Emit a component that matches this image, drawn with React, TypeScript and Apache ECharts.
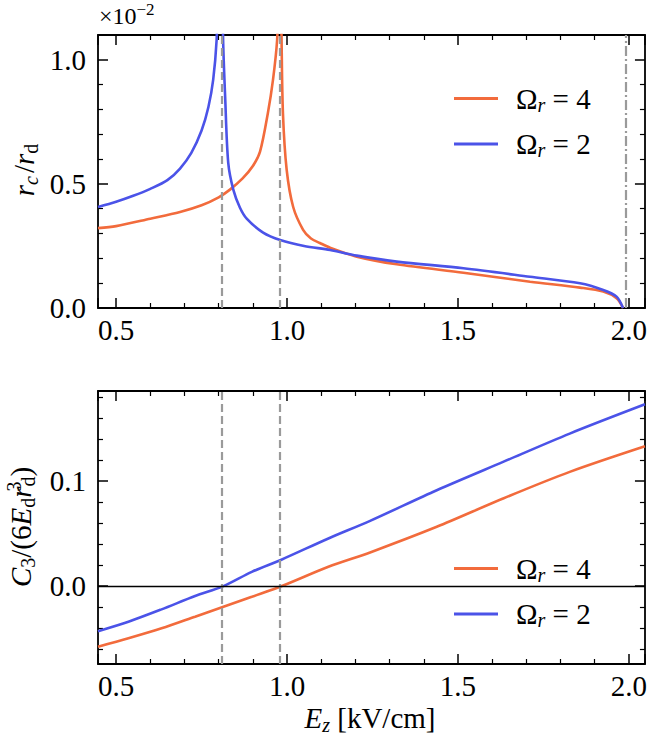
import React, { useEffect, useRef } from "react";
import * as echarts from "echarts";

// ---------- data ----------
const X_RANGE = [0.447, 2.047];
const TOP_Y_RANGE = [0, 1.1];
const BOT_Y_RANGE = [-0.0743, 0.186];

const NAME4 = "Ω_r = 4";
const NAME2 = "Ω_r = 2";

// top panel: r_c / r_d (x 10^-2)
const topOmega4X = [0.447, 0.5, 0.6, 0.687, 0.75, 0.8, 0.833, 0.87, 0.9, 0.921, 0.944, 0.959, 0.971, 0.977, 0.982, 0.984, 0.988, 0.999, 1.018, 1.047, 1.07, 1.096, 1.126, 1.204, 1.321, 1.516, 1.711, 1.857, 1.925, 1.964, 1.983];
const topOmega4Y = [0.322, 0.33, 0.36, 0.387, 0.414, 0.446, 0.477, 0.522, 0.572, 0.63, 0.786, 0.92, 1.08, 1.3, 1.3, 1.08, 0.786, 0.556, 0.407, 0.315, 0.28, 0.262, 0.243, 0.207, 0.176, 0.142, 0.106, 0.082, 0.066, 0.039, 0];

const topOmega2X = [0.447, 0.5, 0.55, 0.6, 0.65, 0.687, 0.72, 0.75, 0.77, 0.784, 0.794, 0.799, 0.811, 0.813, 0.819, 0.828, 0.843, 0.862, 0.882, 0.93, 0.98, 1.05, 1.126, 1.204, 1.321, 1.516, 1.711, 1.857, 1.925, 1.964, 1.983];
const topOmega2Y = [0.407, 0.428, 0.452, 0.48, 0.515, 0.562, 0.625, 0.715, 0.81, 0.92, 1.08, 1.3, 1.3, 1.08, 0.85, 0.585, 0.476, 0.405, 0.36, 0.304, 0.274, 0.25, 0.234, 0.211, 0.187, 0.16, 0.126, 0.0995, 0.0726, 0.0457, 0];

// bottom panel: C3 / (6 E_d r_d^3)
const botX = [0.447, 0.536, 0.633, 0.731, 0.814, 0.897, 0.985, 1.121, 1.243, 1.438, 1.632, 1.827, 2.047];
const botOmega4Y = [-0.0578, -0.0498, -0.0403, -0.0292, -0.0197, -0.0102, 0, 0.0184, 0.0321, 0.0565, 0.0835, 0.1089, 0.1333];
const botOmega2Y = [-0.043, -0.034, -0.0222, -0.0095, 0, 0.0136, 0.0254, 0.0454, 0.0622, 0.0914, 0.1184, 0.1454, 0.1733];

const resonanceX = [0.815, 0.985];
const cutoffX = [1.985];

const X_TICK_STEP = 0.5;
const TOP_Y_TICK_STEP = 0.5;
const BOT_Y_TICK_STEP = 0.1;

// ---------- styles ----------
const FONT = "Liberation Serif";
const ORANGE = "#f26b3c";
const BLUE = "#4b53e8";
const GREY = "#9a9a9a";

const zip = (xs: number[], ys: number[]) => xs.map((x, i) => [x, ys[i]]);

const stepFormatter = (step: number) => (v: number) => {
  const k = v / step;
  return Math.abs(k - Math.round(k)) < 1e-6 ? v.toFixed(1) : "";
};

function valueAxis(opts: any) {
  const { gridIndex, position, range, step, showLabel, isY } = opts;
  return {
    type: "value",
    gridIndex,
    position,
    min: range[0],
    max: range[1],
    minInterval: step,
    maxInterval: step,
    splitNumber: 3,
    axisLine: { show: true, onZero: false, lineStyle: { color: "#000", width: 1.8 } },
    axisTick: { show: true, inside: true, length: 10, lineStyle: { color: "#000", width: 1.5 } },
    minorTick: { show: true, splitNumber: 5, length: 5, lineStyle: { color: "#000", width: 1.2 } },
    splitLine: { show: false },
    minorSplitLine: { show: false },
    axisLabel: {
      show: showLabel,
      color: "#000",
      fontFamily: FONT,
      fontSize: 29,
      margin: isY ? 12 : 7,
      formatter: stepFormatter(step),
    },
  };
}

const legendRich = {
  o: { fontFamily: FONT, fontSize: 29, color: "#000", padding: [0, 0, 0, 13], lineHeight: 32 },
  s: { fontFamily: FONT, fontSize: 20, fontStyle: "italic", color: "#000", verticalAlign: "bottom", lineHeight: 19 },
  t: { fontFamily: FONT, fontSize: 29, color: "#000", lineHeight: 32 },
};
const legendFormatter = (name: string) =>
  name === NAME4 ? "{o|Ω}{s|r}{t| = 4}" : "{o|Ω}{s|r}{t| = 2}";

function legendCfg(top: number) {
  return {
    top,
    left: 449,
    orient: "vertical",
    data: [NAME4, NAME2],
    icon: "rect",
    itemWidth: 44,
    itemHeight: 3,
    itemGap: 15,
    selectedMode: false,
    formatter: legendFormatter,
    textStyle: { fontFamily: FONT, fontSize: 29, color: "#000", rich: legendRich },
  };
}

function lineSeries(name: string, color: string, xAxisIndex: number, yAxisIndex: number, data: number[][], markLine?: any) {
  return {
    type: "line",
    name,
    xAxisIndex,
    yAxisIndex,
    data,
    showSymbol: false,
    symbol: "none",
    smooth: 0.3,
    clip: true,
    lineStyle: { color, width: 2.6 },
    itemStyle: { color },
    markLine,
    z: 3,
  };
}

const vLines = (xs: number[], type: any) =>
  xs.map((x) => ({ xAxis: x, lineStyle: { type, color: GREY, width: 2.2 } }));

const mathRich = {
  i: { fontFamily: FONT, fontSize: 29, fontStyle: "italic", fill: "#000", lineHeight: 34 },
  n: { fontFamily: FONT, fontSize: 29, fill: "#000", lineHeight: 34 },
  si: { fontFamily: FONT, fontSize: 20, fontStyle: "italic", fill: "#000", verticalAlign: "bottom", lineHeight: 20 },
  sd: { fontFamily: FONT, fontSize: 20, fill: "#000", verticalAlign: "bottom", lineHeight: 20 },
  u: { fontFamily: FONT, fontSize: 20, fill: "#000", verticalAlign: "top", lineHeight: 20, width: 0 },
  gap: { fontFamily: FONT, fontSize: 29, fill: "#000", lineHeight: 34, padding: [0, 0, 0, 3] },
};

export default function App() {
  const ref = useRef<HTMLDivElement>(null);

  useEffect(() => {
    if (!ref.current) return;
    const chart = echarts.init(ref.current, null, { renderer: "svg" });

    const topMarks = {
      silent: true,
      symbol: "none",
      label: { show: false },
      animation: false,
      data: [...vLines(resonanceX, [8, 4]), ...vLines(cutoffX, [10, 3, 2, 3])],
    };
    const botMarks = {
      silent: true,
      symbol: "none",
      label: { show: false },
      animation: false,
      data: [
        ...vLines(resonanceX, [8, 4]),
        { yAxis: 0, lineStyle: { type: "solid", color: "#000", width: 1.3 } },
      ],
    };

    const option: any = {
      animation: false,
      backgroundColor: "#fff",
      textStyle: { fontFamily: FONT },
      grid: [
        { left: 98, top: 35, width: 547, height: 273 },
        { left: 98, top: 391, width: 547, height: 273 },
      ],
      xAxis: [
        valueAxis({ gridIndex: 0, position: "bottom", range: X_RANGE, step: X_TICK_STEP, showLabel: true }),
        valueAxis({ gridIndex: 0, position: "top", range: X_RANGE, step: X_TICK_STEP, showLabel: false }),
        valueAxis({ gridIndex: 1, position: "bottom", range: X_RANGE, step: X_TICK_STEP, showLabel: true }),
        valueAxis({ gridIndex: 1, position: "top", range: X_RANGE, step: X_TICK_STEP, showLabel: false }),
      ],
      yAxis: [
        valueAxis({ gridIndex: 0, position: "left", range: TOP_Y_RANGE, step: TOP_Y_TICK_STEP, showLabel: true, isY: true }),
        valueAxis({ gridIndex: 0, position: "right", range: TOP_Y_RANGE, step: TOP_Y_TICK_STEP, showLabel: false, isY: true }),
        valueAxis({ gridIndex: 1, position: "left", range: BOT_Y_RANGE, step: BOT_Y_TICK_STEP, showLabel: true, isY: true }),
        valueAxis({ gridIndex: 1, position: "right", range: BOT_Y_RANGE, step: BOT_Y_TICK_STEP, showLabel: false, isY: true }),
      ],
      legend: [legendCfg(79), legendCfg(549)],
      series: [
        lineSeries(NAME4, ORANGE, 0, 0, zip(topOmega4X, topOmega4Y), topMarks),
        lineSeries(NAME2, BLUE, 0, 0, zip(topOmega2X, topOmega2Y)),
        lineSeries(NAME4, ORANGE, 2, 2, zip(botX, botOmega4Y), botMarks),
        lineSeries(NAME2, BLUE, 2, 2, zip(botX, botOmega2Y)),
      ],
      graphic: [
        {
          type: "text",
          x: 99,
          y: 16,
          style: {
            text: "{a|×10}{b|−2}",
            align: "left",
            verticalAlign: "middle",
            rich: {
              a: { fontFamily: FONT, fontSize: 24, fill: "#000", lineHeight: 30 },
              b: { fontFamily: FONT, fontSize: 17, fill: "#000", verticalAlign: "top", lineHeight: 16 },
            },
          },
        },
        {
          type: "text",
          x: 24,
          y: 170,
          rotation: Math.PI / 2,
          style: {
            text: "{i|r}{si|c}{gap|/}{i|r}{sd|d}",
            align: "center",
            verticalAlign: "middle",
            rich: mathRich,
          },
        },
        {
          type: "text",
          x: 21,
          y: 527,
          rotation: Math.PI / 2,
          style: {
            text: "{i|C}{sd|3}{n|/(6}{i|E}{sd|d}{i|r}{u|3}{sd|d}{n|)}",
            align: "center",
            verticalAlign: "middle",
            rich: mathRich,
          },
        },
        {
          type: "text",
          x: 370,
          y: 718,
          style: {
            text: "{i|E}{si|z}{n| [kV/cm]}",
            align: "center",
            verticalAlign: "middle",
            rich: mathRich,
          },
        },
      ],
    };

    chart.setOption(option);
    return () => chart.dispose();
  }, []);

  return (
    <div
      ref={ref}
      style={{ position: "absolute", left: 0, top: 0, width: 650, height: 743 }}
    />
  );
}
